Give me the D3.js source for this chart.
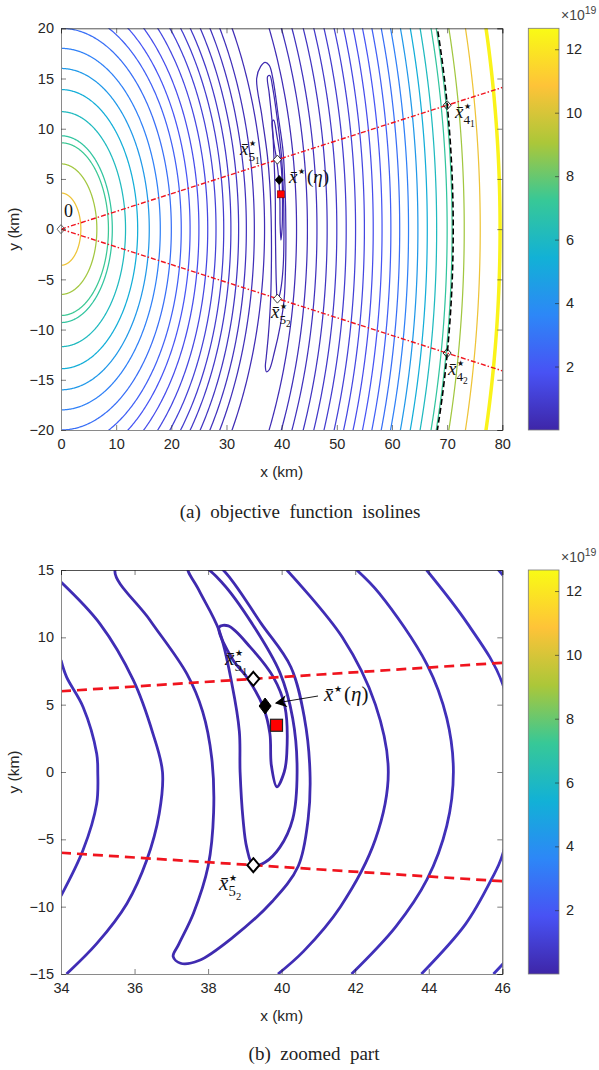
<!DOCTYPE html>
<html>
<head>
<meta charset="utf-8">
<script src="https://cdn.jsdelivr.net/npm/d3@7"></script>
<style>
body { margin: 0; background: #fff; }
</style>
</head>
<body>
<script>
// ---------- data ----------
const xTicksA = [0, 10, 20, 30, 40, 50, 60, 70, 80];
const yTicksA = [-20, -15, -10, -5, 0, 5, 10, 15, 20];
const xTicksB = [34, 36, 38, 40, 42, 44, 46];
const yTicksB = [-15, -10, -5, 0, 5, 10, 15];
const cbTicks = [2, 4, 6, 8, 10, 12];
const cbMax = 12.66; // colour limits, x 1e19

// isoline levels (x 1e19), shared by the arcs left and right of the valley
const arcLevels = [0.3, 0.4, 0.5, 0.6, 0.75, 0.9, 1.1, 1.35, 1.6, 1.9, 2.3, 2.8, 3.4, 4.4, 5.3, 6.1, 7.0, 7.3, 8.9, 10.5, 12.4];
// radius (km) of each arc, read where it crosses y = 0
const leftArcR = [36.9, 35.05, 33.6, 32.2, 30.8, 29.5, 28.1, 26.6, 25.0, 23.4, 21.8, 20.0, 18.0, 16.0, 13.9, 11.7, 9.3, 8.6, 6.5, 3.6];
const rightArcR = [42.7, 44.67, 46.4, 48.25, 50.0, 51.7, 53.4, 55.0, 56.6, 58.2, 59.8, 61.4, 63.0, 64.7, 66.4, 68.1, 70.0, 70.9, 73.1, 76.0, 79.6];

// closed isolines around the minimum (km)
const loopLevels = [0.2, 0.15, 0.1];
const loopHairpin = [[35.47,15],[36.42,11.27],[37.42,7.3],[37.85,4.5],[38.1,1],[38.15,-3],[38.0,-7],[37.6,-10.5],[37.2,-12.8],[37.05,-13.7],[37.25,-14.2],[37.75,-14.0],[38.68,-12.26],[39.75,-9.6],[40.45,-7.0],[40.72,-3.5],[40.77,0],[40.62,4],[40.25,7.8],[39.45,11],[38.41,15],[37.75,16.3],[37.0,16.6],[36.2,16.2]];
const loopX5 = [[38.87,0],[38.95,-3.5],[39.05,-5.6],[39.23,-6.93],[39.55,-6.7],[39.95,-5.6],[40.3,-3.5],[40.42,0],[40.3,4],[39.95,7.4],[39.2,11],[38.4,14],[37.85,15.3],[37.45,15.2],[37.75,13.5],[38.3,10.5],[38.65,6.5],[38.85,3]];
const loopInner = [[38.3,10.75],[38.68,8.3],[39.05,7.06],[39.5,4.83],[39.68,2.85],[39.72,0.5],[39.87,-1.1],[40.07,0],[40.14,1.37],[40.09,4.83],[39.77,7.06],[39.14,9.29],[38.55,10.85]];

// isolines of the zoomed panel (km)
const zoomLineA = [[34,8.3],[34.15,7.06],[34.6,4.83],[34.97,1.37],[35.0,0],[34.97,-2.35],[34.6,-5.8],[34,-9.2]];
const zoomLineB = [[34,14.1],[35.06,11.0],[35.97,6.8],[36.5,2.85],[36.76,0],[36.67,-3.1],[36.33,-6.56],[35.79,-9.78],[34.97,-12.75],[34.15,-15]];
const zoomLine2 = [[40.14,15],[41.65,10],[42.55,5],[42.9,0],[42.55,-5],[41.6,-10],[40.6,-13.3],[39.9,-15]];
const zoomLine3 = [[42.04,15],[42.66,13.25],[43.95,8],[44.49,4],[44.67,0],[44.49,-4],[43.95,-8],[43.1,-11.5],[41.9,-15]];
const zoomLine4 = [[43.94,15],[45.06,11],[46.0,6.6],[46.4,0],[46.0,-6.2],[45.7,-8],[45.0,-11.3],[43.8,-15]];
const zoomLine5 = [[45.9,15],[47.0,11],[47.9,6],[48.25,0],[47.9,-6],[47.0,-11],[45.76,-15]];
const zoomLevels = [0.4, 0.3, 0.3, 0.4, 0.5, 0.6];

// markers
const ptsX4 = [[70, 12.34], [70, -12.34]];
const ptsX5 = [[39.23, 6.92], [39.23, -6.92]];
const ptEta = [39.55, 4.9];
const ptTrue = [39.86, 3.47];
const dashedR = 71.1;     // black dashed circle
const rayAngles = [10, -10]; // red rays, degrees

// parula colormap
const parula = ['#3e26a8', '#4852f4', '#2d87f7', '#12b1d6', '#37c897', '#abc739', '#fec338', '#f9fb15'];
const cmap = d3.scaleLinear()
  .domain(parula.map((c, i) => i / (parula.length - 1) * cbMax))
  .range(parula).clamp(true);

// ---------- drawing ----------
const W = 599, H = 1070;
const svg = d3.select('body').append('svg').attr('width', W).attr('height', H)
  .style('font-family', 'Liberation Sans, Arial, Helvetica, sans-serif');

const sans = 'Liberation Sans, Arial, sans-serif';
const serif = 'Liberation Serif, Times New Roman, serif';
const tickCol = '#262626';

function arcPts(r) {
  return d3.range(-90, 90.01, 0.5).map(a => [r * Math.cos(a * Math.PI / 180), r * Math.sin(a * Math.PI / 180)]);
}

function diamond(g, x, y, hw, hh, fill, stroke, sw) {
  g.append('path')
    .attr('d', `M${x},${y - hh}L${x + hw},${y}L${x},${y + hh}L${x - hw},${y}Z`)
    .attr('fill', fill).attr('stroke', stroke).attr('stroke-width', sw);
}

function mathLabel(g, x, y, size, sub, subsub, paren) {
  const t = g.append('text').attr('x', x).attr('y', y)
    .attr('font-family', serif).attr('font-size', size).attr('fill', '#111');
  t.append('tspan').attr('font-style', 'italic').text('x\u0304');
  t.append('tspan').attr('dx', 0.05 * size).attr('dy', -0.45 * size).attr('font-size', 0.42 * size).text('\u2605');
  if (sub) {
    t.append('tspan').attr('dx', -0.42 * size).attr('dy', 0.75 * size).attr('font-size', 0.7 * size).text(sub);
    t.append('tspan').attr('dy', 0.18 * size).attr('font-size', 0.5 * size).text(subsub);
  }
  if (paren) {
    t.append('tspan').attr('dy', 0.45 * size).attr('dx', 0.08 * size).text('(');
    t.append('tspan').attr('font-style', 'italic').text('\u03B7');
    t.append('tspan').text(')');
  }
}

function panel(id, x, y, xTicks, yTicks) {
  const g = svg.append('g');
  const [x0, x1] = x.range(), [y1, y0] = y.range();
  svg.append('clipPath').attr('id', id).append('rect')
    .attr('x', x0).attr('y', y0).attr('width', x1 - x0).attr('height', y1 - y0);
  const plot = g.append('g').attr('clip-path', `url(#${id})`);

  // axes
  const ax = g.append('g');
  const bottom = ax.append('g').attr('transform', `translate(0,${y1})`)
    .call(d3.axisBottom(x).tickValues(xTicks).tickSize(-5).tickPadding(9));
  const left = ax.append('g').attr('transform', `translate(${x0},0)`)
    .call(d3.axisLeft(y).tickValues(yTicks).tickSize(-5).tickPadding(7));
  const top = ax.append('g').attr('transform', `translate(0,${y0})`)
    .call(d3.axisTop(x).tickValues(xTicks).tickSize(-5).tickFormat(''));
  const right = ax.append('g').attr('transform', `translate(${x1},0)`)
    .call(d3.axisRight(y).tickValues(yTicks).tickSize(-5).tickFormat(''));
  [bottom, left, top, right].forEach(a => {
    a.selectAll('text').attr('fill', tickCol).style('font-family', sans).style('font-size', '14.5px');
    a.selectAll('line').attr('stroke', tickCol).attr('stroke-width', 0.6);
  });
  bottom.select('.domain').attr('stroke', '#8a8a8a').attr('stroke-width', 1);
  left.select('.domain').attr('stroke', '#8a8a8a').attr('stroke-width', 1);
  top.select('.domain').attr('stroke', '#262626').attr('stroke-width', 0.8);
  right.select('.domain').attr('stroke', '#262626').attr('stroke-width', 0.8);

  g.append('text').attr('x', (x0 + x1) / 2).attr('y', y1 + 47).attr('text-anchor', 'middle')
    .attr('font-family', sans).attr('font-size', 15.5).attr('fill', tickCol).text('x (km)');
  g.append('text').attr('transform', `translate(19,${(y0 + y1) / 2}) rotate(-90)`).attr('text-anchor', 'middle')
    .attr('font-family', sans).attr('font-size', 15.5).attr('fill', tickCol).text('y (km)');

  // colorbar
  const cbx0 = 528.3, cbx1 = 559;
  const cb = d3.scaleLinear([0, cbMax], [y1, y0]);
  const gid = id + 'grad';
  const grad = svg.append('defs').append('linearGradient').attr('id', gid)
    .attr('x1', 0).attr('y1', 1).attr('x2', 0).attr('y2', 0);
  parula.forEach((c, i) => grad.append('stop').attr('offset', i / (parula.length - 1)).attr('stop-color', c));
  g.append('rect').attr('x', cbx0).attr('y', y0).attr('width', cbx1 - cbx0).attr('height', y1 - y0)
    .attr('fill', `url(#${gid})`).attr('stroke', '#7a7a7a').attr('stroke-width', 0.8);
  const cba = g.append('g').attr('transform', `translate(${cbx1},0)`)
    .call(d3.axisRight(cb).tickValues(cbTicks).tickSize(-4).tickPadding(7));
  cba.select('.domain').remove();
  cba.selectAll('line').attr('stroke', tickCol).attr('stroke-width', 0.6);
  cba.selectAll('text').attr('fill', tickCol).style('font-family', sans).style('font-size', '14.5px');
  const ex = g.append('text').attr('x', 561).attr('y', y0 - 8).attr('font-family', sans)
    .attr('font-size', 14).attr('fill', '#444');
  ex.append('tspan').text('\u00D710');
  ex.append('tspan').attr('dy', -6).attr('font-size', 10.5).text('19');

  return { g, plot };
}

// ===== panel (a) =====
const xA = d3.scaleLinear([0, 80], [61, 502.3]);
const yA = d3.scaleLinear([-20, 20], [430, 28.3]);
const A = panel('clipA', xA, yA, xTicksA, yTicksA);
const lineA = d3.line().x(d => xA(d[0])).y(d => yA(d[1]));
const lineAc = d3.line().x(d => xA(d[0])).y(d => yA(d[1])).curve(d3.curveCatmullRomClosed.alpha(0.5));

leftArcR.forEach((r, i) => {
  A.plot.append('path').attr('d', lineA(arcPts(r))).attr('fill', 'none')
    .attr('stroke', cmap(arcLevels[i])).attr('stroke-width', 1.25);
});
rightArcR.forEach((r, i) => {
  A.plot.append('path').attr('d', lineA(arcPts(r))).attr('fill', 'none')
    .attr('stroke', cmap(arcLevels[i])).attr('stroke-width', i === rightArcR.length - 1 ? 3.5 : 1.25);
});
[loopHairpin, loopX5, loopInner].forEach((pts, i) => {
  A.plot.append('path').attr('d', lineAc(pts)).attr('fill', 'none')
    .attr('stroke', cmap(loopLevels[i])).attr('stroke-width', 1.25);
});

// red rays
rayAngles.forEach(a => {
  const pts = [[0, 0], [80, 80 * Math.tan(a * Math.PI / 180)]];
  A.plot.append('path').attr('d', lineA(pts)).attr('stroke', '#f0141e').attr('stroke-width', 1.4)
    .attr('stroke-dasharray', '5,2,1.5,2').attr('fill', 'none');
});
// black dashed circle
A.plot.append('path').attr('d', lineA(arcPts(dashedR))).attr('fill', 'none')
  .attr('stroke', '#000').attr('stroke-width', 1.6).attr('stroke-dasharray', '6,3');

// markers (a)
diamond(A.g, xA(0), yA(0), 4, 4.5, 'none', '#555', 0.9);
ptsX4.forEach(p => diamond(A.g, xA(p[0]), yA(p[1]), 4, 4.5, 'none', '#111', 0.9));
ptsX5.forEach(p => diamond(A.g, xA(p[0]), yA(p[1]), 4, 4.5, '#fff', '#111', 0.8));
diamond(A.g, xA(ptEta[0]), yA(ptEta[1]), 4, 4.5, '#000', '#000', 0.8);
A.g.append('rect').attr('x', xA(ptTrue[0]) - 3.5).attr('y', yA(ptTrue[1]) - 3.5).attr('width', 7).attr('height', 7)
  .attr('fill', '#f00').attr('stroke', '#600').attr('stroke-width', 0.6);

A.g.append('text').attr('x', 64).attr('y', 217).attr('font-family', serif).attr('font-size', 18).attr('fill', '#111').text('0');
mathLabel(A.g, 240, 155, 19, '5', '1');
mathLabel(A.g, 289, 183, 19, null, null, true);
mathLabel(A.g, 271, 318, 19, '5', '2');
mathLabel(A.g, 455, 118, 19, '4', '1');
mathLabel(A.g, 448, 375, 19, '4', '2');

svg.append('text').attr('x', 300).attr('y', 518).attr('text-anchor', 'middle')
  .attr('font-family', serif).attr('font-size', 19).attr('fill', '#222')
  .attr('xml:space', 'preserve').text('(a)  objective  function  isolines');

// ===== panel (b) =====
const xB = d3.scaleLinear([34, 46], [61, 502.3]);
const yB = d3.scaleLinear([-15, 15], [974, 570]);
const B = panel('clipB', xB, yB, xTicksB, yTicksB);
const lineB = d3.line().x(d => xB(d[0])).y(d => yB(d[1])).curve(d3.curveCatmullRom.alpha(0.5));
const lineBc = d3.line().x(d => xB(d[0])).y(d => yB(d[1])).curve(d3.curveCatmullRomClosed.alpha(0.5));

[zoomLineA, zoomLineB, zoomLine2, zoomLine3, zoomLine4, zoomLine5].forEach((pts, i) => {
  B.plot.append('path').attr('d', lineB(pts)).attr('fill', 'none')
    .attr('stroke', cmap(zoomLevels[i])).attr('stroke-width', 2.8);
});
[loopHairpin, loopX5, loopInner].forEach((pts, i) => {
  B.plot.append('path').attr('d', lineBc(pts)).attr('fill', 'none')
    .attr('stroke', cmap(loopLevels[i])).attr('stroke-width', 2.8);
});
rayAngles.forEach(a => {
  const t = Math.tan(a * Math.PI / 180);
  const pts = [[34, 34 * t], [46, 46 * t]];
  B.plot.append('path').attr('d', d3.line().x(d => xB(d[0])).y(d => yB(d[1]))(pts))
    .attr('stroke', '#f0141e').attr('stroke-width', 2.7).attr('stroke-dasharray', '10,6').attr('fill', 'none');
});

ptsX5.forEach(p => diamond(B.g, xB(p[0]), yB(p[1]), 6, 7, '#fff', '#000', 2));
diamond(B.g, xB(ptEta[0]), yB(ptEta[1]), 6, 8, '#000', '#000', 1);
B.g.append('rect').attr('x', xB(ptTrue[0]) - 6).attr('y', yB(ptTrue[1]) - 6).attr('width', 12).attr('height', 12)
  .attr('fill', '#f00').attr('stroke', '#222').attr('stroke-width', 1.2);

// arrow to x*(eta)
B.g.append('defs').append('marker').attr('id', 'ah').attr('viewBox', '0 0 10 10')
  .attr('refX', 9).attr('refY', 5).attr('markerWidth', 12).attr('markerHeight', 12)
  .attr('markerUnits', 'userSpaceOnUse').attr('orient', 'auto')
  .append('path').attr('d', 'M0,0L10,5L0,10L3,5Z').attr('fill', '#000');
B.g.append('line').attr('x1', 318).attr('y1', 696).attr('x2', 276).attr('y2', 703)
  .attr('stroke', '#000').attr('stroke-width', 0.9).attr('marker-end', 'url(#ah)');

mathLabel(B.g, 225, 665, 21, '5', '1');
mathLabel(B.g, 324, 701, 21, null, null, true);
mathLabel(B.g, 219, 890, 21, '5', '2');

svg.append('text').attr('x', 314).attr('y', 1060).attr('text-anchor', 'middle')
  .attr('font-family', serif).attr('font-size', 19).attr('fill', '#222')
  .attr('xml:space', 'preserve').text('(b)  zoomed  part');
</script>
</body>
</html>
